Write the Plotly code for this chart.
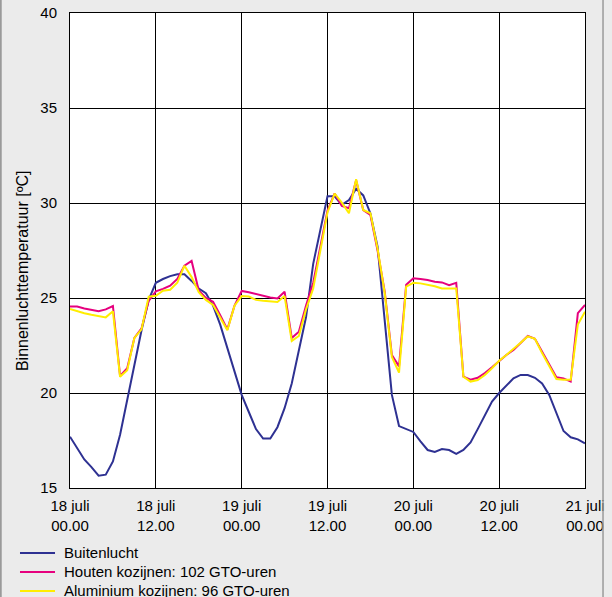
import plotly.graph_objects as go
import pandas as pd

# hours since 18 juli 00.00
hours = list(range(0, 73))

buitenlucht = [17.7, 17.1, 16.5, 16.1, 15.65, 15.7, 16.4, 17.8, 19.7, 21.5,
               23.3, 24.9, 25.8, 26.0, 26.15, 26.25, 26.25, 25.9, 25.5, 25.25,
               24.6, 23.6, 22.4, 21.1, 19.9, 19.0, 18.1, 17.6, 17.6, 18.2,
               19.2, 20.5, 22.2, 24.0, 26.8, 28.6, 30.35, 30.35, 29.9, 30.15,
               30.75, 30.4, 29.45, 27.7, 23.9, 19.9, 18.26, 18.1, 17.95, 17.45,
               17.0, 16.9, 17.05, 17.0, 16.8, 17.0, 17.4, 18.1, 18.8, 19.55,
               20.0, 20.37, 20.77, 20.95, 20.95, 20.8, 20.5, 19.9, 19.0, 18.0,
               17.67, 17.56, 17.35]

houten = [24.55, 24.55, 24.45, 24.38, 24.3, 24.4, 24.58, 20.9, 21.3, 22.9,
          23.4, 24.85, 25.35, 25.48, 25.65, 26.0, 26.7, 26.95, 25.4, 25.0,
          24.8, 24.1, 23.35, 24.6, 25.37, 25.3, 25.2, 25.1, 25.03, 24.98,
          25.33, 22.9, 23.23, 24.6, 25.8, 27.7, 29.6, 30.5, 29.84, 29.72,
          31.2, 29.63, 29.37, 27.5, 25.33, 22.0, 21.4, 25.7, 26.04, 26.0,
          25.95, 25.86, 25.82, 25.68, 25.8, 20.86, 20.7, 20.8, 21.05, 21.35,
          21.7, 22.0, 22.26, 22.65, 23.0, 22.85, 22.2, 21.5, 20.83, 20.77,
          20.6, 24.2, 24.63]

aluminium = [24.42, 24.3, 24.2, 24.12, 24.05, 23.98, 24.3, 20.85, 21.2, 22.9,
             23.35, 25.07, 25.12, 25.38, 25.43, 25.8, 26.7, 26.1, 25.3, 24.9,
             24.63, 24.0, 23.3, 24.6, 25.1, 25.08, 24.9, 24.85, 24.82, 24.79,
             25.1, 22.74, 23.0, 24.4, 25.5, 27.6, 29.5, 30.5, 30.02, 29.46,
             31.25, 29.63, 29.46, 27.6, 25.25, 21.9, 21.07, 25.6, 25.8, 25.77,
             25.7, 25.62, 25.5, 25.5, 25.5, 20.86, 20.6, 20.68, 20.95, 21.3,
             21.7, 22.0, 22.3, 22.65, 22.98, 22.85, 22.1, 21.4, 20.74, 20.7,
             20.7, 23.6, 24.28]

series_names = ["Buitenlucht", "Houten kozijnen: 102 GTO-uren",
                "Aluminium kozijnen: 96 GTO-uren"]
series_colors = ["#2e3192", "#e6007e", "#ffed00"]

tick_vals = ["2006-07-18 00:00", "2006-07-18 12:00", "2006-07-19 00:00",
             "2006-07-19 12:00", "2006-07-20 00:00", "2006-07-20 12:00",
             "2006-07-21 00:00"]
tick_text = ["18 juli<br>00.00", "18 juli<br>12.00", "19 juli<br>00.00",
             "19 juli<br>12.00", "20 juli<br>00.00", "20 juli<br>12.00",
             "21 juli<br>00.00"]

start = pd.Timestamp("2006-07-18 00:00")
times = [start + pd.Timedelta(hours=h) for h in hours]

FONT = "Liberation Sans"
fig = go.Figure()
for name, vals, col in zip(series_names, [buitenlucht, houten, aluminium], series_colors):
    fig.add_trace(go.Scatter(x=times, y=vals, mode="lines", name=name,
                             line=dict(color=col, width=2), showlegend=False))

# manual legend below the chart (paper coordinates)
legend_rows_y = [-0.1368, -0.1768, -0.2168]
shapes = []
annotations = []
for name, col, ry in zip(series_names, series_colors, legend_rows_y):
    shapes.append(dict(type="line", xref="paper", yref="paper", x0=-0.0971, x1=-0.0291,
                       y0=ry, y1=ry, line=dict(color=col, width=2)))
    annotations.append(dict(text=name, xref="paper", yref="paper", x=-0.0155, y=ry,
                            xanchor="left", yanchor="middle", showarrow=False,
                            font=dict(size=15, family=FONT, color="black")))

annotations.append(dict(text="Binnenluchttemperatuur [ºC]", xref="paper", yref="paper",
                        x=-0.091, y=0.457, xanchor="center", yanchor="middle",
                        textangle=-90, showarrow=False, font=dict(size=16, family=FONT)))
shapes += [
    dict(type="line", xref="paper", yref="paper", x0=1.035, x1=1.035, y0=-0.3, y1=1.1,
         line=dict(color="#9a9a9a", width=1.5)),
    dict(type="line", xref="paper", yref="paper", x0=-0.1345, x1=-0.1345, y0=-0.3, y1=1.1,
         line=dict(color="#9a9a9a", width=2)),
]

fig.update_layout(
    width=612, height=597,
    margin=dict(l=70, r=27, t=13, b=109, autoexpand=False),
    paper_bgcolor="#ebebeb",
    plot_bgcolor="white",
    font=dict(family=FONT, size=15, color="black"),
    showlegend=False,
    xaxis=dict(range=[tick_vals[0], tick_vals[-1]], tickvals=tick_vals, ticktext=tick_text,
               showgrid=True, gridcolor="black", gridwidth=1,
               showline=True, linecolor="black", linewidth=1, mirror=True,
               ticks="", ticklabelstandoff=4, zeroline=False, automargin=False),
    yaxis=dict(range=[15, 40], tickvals=[15, 20, 25, 30, 35, 40],
               showgrid=True, gridcolor="black", gridwidth=1,
               showline=True, linecolor="black", linewidth=1, mirror=True,
               ticks="", ticklabelstandoff=9, zeroline=False, automargin=False),
    annotations=annotations,
    shapes=shapes,
)

fig.write_html("out.html", config={"displayModeBar": False},
               post_script="document.body.style.margin='0px';"
                           "document.body.style.background='#ebebeb';"
                           "document.body.style.overflow='hidden';")
